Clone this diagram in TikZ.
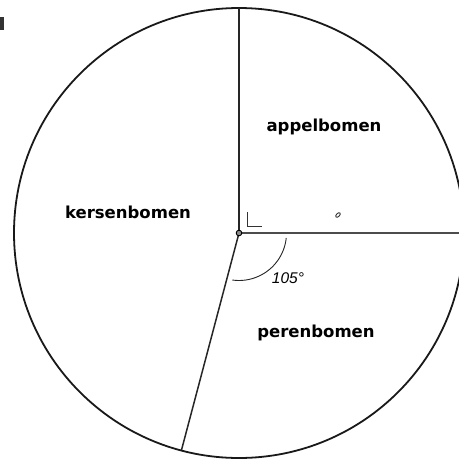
\documentclass[tikz,border=0pt]{standalone}
\usepackage{fontspec}
\usetikzlibrary{calc}
\newfontfamily\labelfont{DejaVu Sans}
\newfontfamily\anglefont{Liberation Sans}
\begin{document}
\begin{tikzpicture}[x=1pt,y=-1pt,
  rim/.style={line width=1.8pt,black!90},
  radius line/.style={line width=1.5pt,black!85},
  sector label/.style={font=\labelfont\bfseries\fontsize{16.5}{18}\selectfont,inner sep=0pt},
  angle label/.style={font=\anglefont\itshape\fontsize{15.5}{17}\selectfont,inner sep=0pt}]
\useasboundingbox (0,0) rectangle (459,459);
\coordinate (M) at (239,233);
\coordinate (T) at (239,8);
\coordinate (R) at (459,233);
\coordinate (B) at (181.5,450);
\begin{scope}
\clip (0,0) rectangle (459,459);
\draw[rim] (M) circle[radius=225];
\end{scope}
\draw[radius line] (M) -- (T);
\draw[line width=1.3pt,black!70] (M) -- (R);
\draw[radius line] (M) -- (B);
% right angle mark
\draw[line width=0.9pt,black!80] (247,212) -- (247,226) -- (262,226);
% 105 degree arc
\draw[line width=0.9pt,black!85] ($(M)+(6:47.5)$) arc[start angle=6,end angle=98,radius=47.5];
\node[angle label] (ang) at (288,278.5) {105°};
% centre dot
\draw[line width=0.9pt,fill=black!45] (M) circle[radius=2.8];
% small mark
\draw[line width=0.9pt,black!80,rotate around={45:(338,215)}] (338,215) ellipse[x radius=2.8,y radius=1.6];
% top-left artifact
\fill[black!80] (0,17) rectangle (4,30);
\node[sector label] (appel) at (324,127) {appelbomen};
\node[sector label] (kersen) at (128,212) {kersenbomen};
\node[sector label] (peren) at (316,333) {perenbomen};
\end{tikzpicture}
\end{document}
